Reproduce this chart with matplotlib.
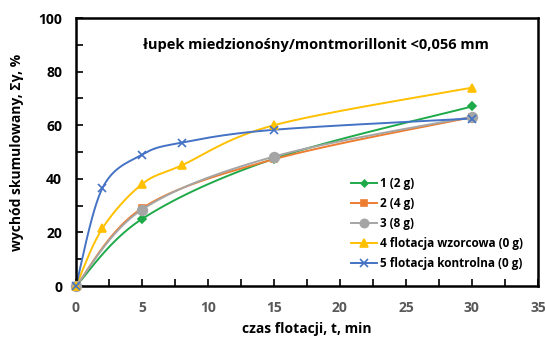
import numpy as np
import matplotlib
matplotlib.use("Agg")
import matplotlib.pyplot as plt
from matplotlib.ticker import MultipleLocator

# data
t_short = [0, 5, 15, 30]
t_long = [0, 2, 5, 8, 15, 30]
y1 = [0, 25.0, 47.5, 67.0]
y2 = [0, 29.0, 47.3, 63.0]
y3 = [0, 28.5, 48.3, 63.2]
y4 = [0, 21.5, 38.0, 45.0, 60.0, 74.0]
y5 = [0, 36.5, 49.0, 53.5, 58.3, 62.5]

labels = ["1 (2 g)", "2 (4 g)", "3 (8 g)",
          "4 flotacja wzorcowa (0 g)", "5 flotacja kontrolna (0 g)"]
colors = ["#1faa4a", "#ed7d31", "#a5a5a5", "#ffc000", "#4472c4"]
markers = ["D", "s", "o", "^", "x"]
msizes = [4, 5, 7, 6, 6]

plt.rcParams["font.family"] = ["Open Sans", "DejaVu Sans"]


def smooth(x, y, n=30):
    # Catmull-Rom like Excel's smoothed lines
    p = np.column_stack([x, y]).astype(float)
    p = np.vstack([p[0], p, p[-1]])
    out = []
    for i in range(1, len(p) - 2):
        p0, p1, p2, p3 = p[i - 1], p[i], p[i + 1], p[i + 2]
        c1 = p1 + (p2 - p0) / 6.0
        c2 = p2 - (p3 - p1) / 6.0
        s = np.linspace(0, 1, n)[:, None]
        seg = (1 - s) ** 3 * p1 + 3 * (1 - s) ** 2 * s * c1 + 3 * (1 - s) * s ** 2 * c2 + s ** 3 * p2
        out.append(seg)
    out = np.vstack(out)
    return out[:, 0], out[:, 1]


fig = plt.figure(figsize=(5.45, 3.38), dpi=100)
ax = fig.add_axes([0.1394, 0.1538, 0.8476, 0.7929])

series = [(t_short, y1), (t_short, y2), (t_short, y3), (t_long, y4), (t_long, y5)]
for (x, y), lab, c, m, ms in zip(series, labels, colors, markers, msizes):
    sx, sy = smooth(x, y)
    ax.plot(sx, sy, color=c, lw=1.4)
    ax.plot(x, y, ls="none", marker=m, color=c, ms=ms, mew=1.2, clip_on=False, zorder=3)
    ax.plot([], [], color=c, lw=1.4, marker=m, ms=ms, mew=1.2, label=lab)

ax.set_xlim(0, 35)
ax.set_ylim(0, 100)
ax.xaxis.set_major_locator(MultipleLocator(5))
ax.xaxis.set_minor_locator(MultipleLocator(2.5))
ax.yaxis.set_major_locator(MultipleLocator(20))
ax.yaxis.set_minor_locator(MultipleLocator(10))
ax.tick_params(which="both", direction="in", top=False, right=False, width=1.2, color="black")
ax.tick_params(which="major", length=5)
ax.tick_params(which="minor", length=5)
ax.tick_params(axis="x", labelcolor="#595959", labelsize=10, pad=11)
ax.tick_params(axis="y", labelcolor="black", labelsize=10, pad=10)
for lbl in ax.get_xticklabels() + ax.get_yticklabels():
    lbl.set_fontweight("bold")
for sp in ax.spines.values():
    sp.set_linewidth(1.8)

ax.set_xlabel("czas flotacji, t, min", fontsize=10, fontweight="bold", labelpad=5)
ax.set_ylabel("wychód skumulowany, Σγ, %", fontsize=10, fontweight="bold", labelpad=10)
ax.text(0.52, 0.899, "łupek miedzionośny/montmorillonit <0,056 mm", transform=ax.transAxes,
        ha="center", va="center", fontsize=10.5, fontweight="bold")

ax.legend(loc="lower right", bbox_to_anchor=(0.99, 0.02), frameon=False,
          prop={"weight": "bold", "size": 8.5}, handlelength=2.2, handletextpad=0.2,
          labelspacing=0.6, markerscale=0.85)

fig.savefig("out.png", dpi=100)
